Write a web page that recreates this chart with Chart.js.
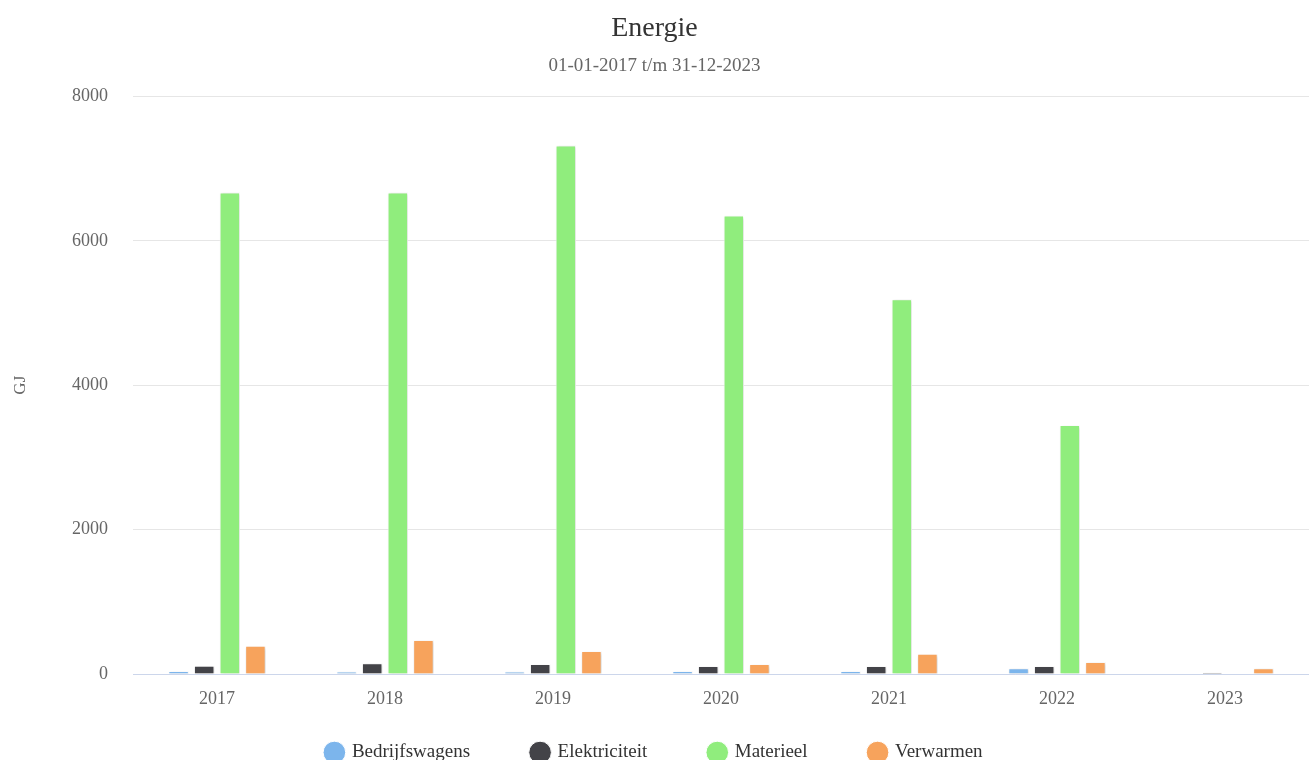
<!DOCTYPE html>
<html>
<head>
<meta charset="utf-8">
<script src="https://cdn.jsdelivr.net/npm/chart.js@4/dist/chart.umd.min.js"></script>
<style>
  html, body { margin: 0; padding: 0; background: #fff; }
  #wrap { width: 1309px; height: 760px; }
</style>
</head>
<body>
<div id="wrap"><canvas id="energie"></canvas></div>
<script>
const years = ['2017', '2018', '2019', '2020', '2021', '2022', '2023'];
const bedrijfswagens = [40, 35, 35, 40, 40, 80, 0];
const elektriciteit = [115, 150, 140, 110, 110, 110, 20];
const materieel = [6670, 6670, 7320, 6350, 5190, 3450, 0];
const verwarmen = [390, 470, 320, 140, 280, 165, 80];
const yTicks = [0, 2000, 4000, 6000, 8000];

const FONT = "'Liberation Serif', 'Times New Roman', serif";

// highcharts-like soft shadow under the bars
const barShadow = {
  id: 'barShadow',
  beforeDatasetsDraw(chart) {
    const ctx = chart.ctx;
    ctx.save();
    ctx.shadowColor = 'rgba(0,0,0,0.18)';
    ctx.shadowBlur = 3;
    ctx.shadowOffsetX = 1;
    ctx.shadowOffsetY = 1;
  },
  afterDatasetsDraw(chart) {
    chart.ctx.restore();
  },
};

function series(label, data, color) {
  return {
    label,
    data,
    backgroundColor: color,
    borderColor: '#ffffff',
    borderWidth: 1,
    categoryPercentage: 0.61,
    barPercentage: 0.8,
  };
}

new Chart(document.getElementById('energie'), {
  type: 'bar',
  data: {
    labels: years,
    datasets: [
      series('Bedrijfswagens', bedrijfswagens, '#7cb5ec'),
      series('Elektriciteit', elektriciteit, '#434348'),
      series('Materieel', materieel, '#90ed7d'),
      series('Verwarmen', verwarmen, '#f7a35c'),
    ],
  },
  plugins: [barShadow],
  options: {
    responsive: true,
    maintainAspectRatio: false,
    animation: false,
    layout: { padding: { left: 0, right: 0, top: 10, bottom: 0 } },
    plugins: {
      title: {
        display: true,
        text: 'Energie',
        color: '#333333',
        font: { family: FONT, size: 28, weight: 'normal' },
        padding: { top: 2, bottom: 8 },
      },
      subtitle: {
        display: true,
        text: '01-01-2017 t/m 31-12-2023',
        color: '#666666',
        font: { family: FONT, size: 19, weight: 'normal' },
        padding: { top: 1, bottom: 19 },
      },
      legend: {
        position: 'bottom',
        maxHeight: 79,
        labels: {
          usePointStyle: true,
          pointStyle: 'circle',
          boxWidth: 16,
          boxHeight: 16,
          padding: 62,
          color: '#333333',
          font: { family: FONT, size: 19 },
        },
      },
      tooltip: { enabled: false },
    },
    scales: {
      x: {
        grid: { display: false, drawTicks: false },
        border: { color: '#ccd6eb', width: 1 },
        ticks: {
          color: '#666666',
          padding: 14,
          autoSkip: false,
          maxRotation: 0,
          minRotation: 0,
          font: { family: FONT, size: 18 },
        },
        afterFit(scale) {
          scale.height = 7;
          // let the year labels draw below the (thin) axis box
          scale._computeLabelArea = () => undefined;
        },
      },
      y: {
        min: 0,
        max: 8000,
        afterBuildTicks(scale) { scale.ticks = yTicks.map(v => ({ value: v })); },
        grid: { color: '#e6e6e6', drawTicks: false },
        border: { display: false },
        ticks: {
          color: '#666666',
          padding: 25,
          font: { family: FONT, size: 18 },
          callback: (v) => String(v),
        },
        title: {
          display: true,
          text: 'GJ',
          color: '#666666',
          font: { family: FONT, size: 17 },
          padding: { top: 10, bottom: 30 },
        },
        afterFit(scale) { scale.width = 133; },
      },
    },
  },
});
</script>
</body>
</html>
